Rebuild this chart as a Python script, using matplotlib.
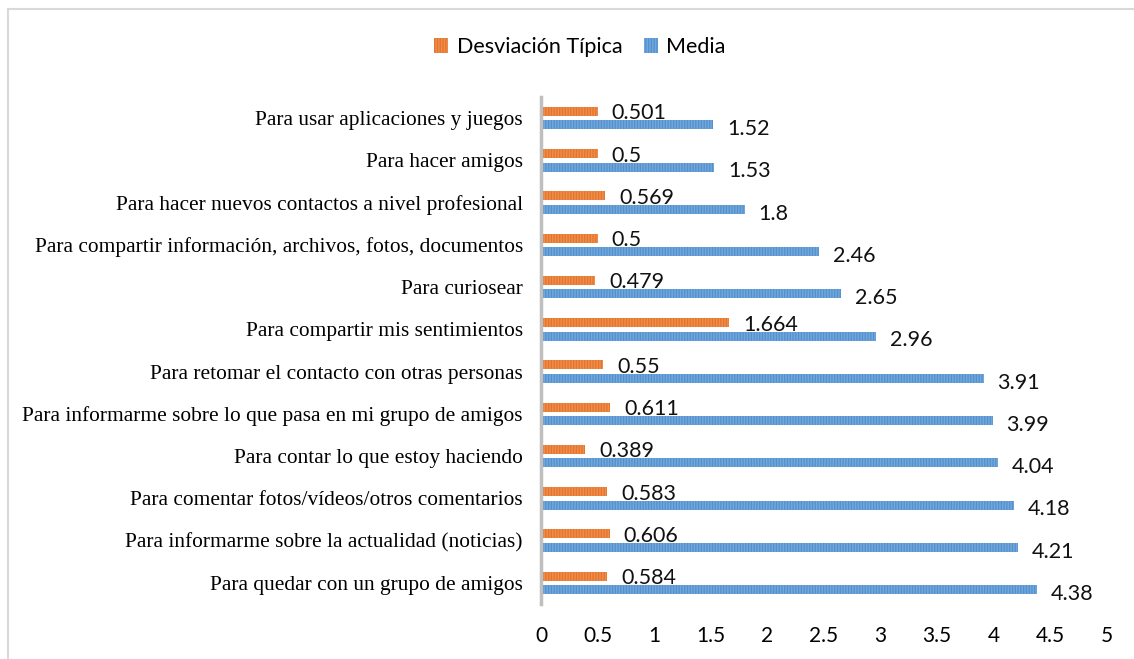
import numpy as np
import matplotlib
matplotlib.use("Agg")
import matplotlib.pyplot as plt
from matplotlib.patches import Rectangle, Patch

categorias = [
    "Para usar aplicaciones y juegos",
    "Para hacer amigos",
    "Para hacer nuevos contactos a nivel profesional",
    "Para compartir información, archivos, fotos, documentos",
    "Para curiosear",
    "Para compartir mis sentimientos",
    "Para retomar el contacto con otras personas",
    "Para informarme sobre lo que pasa en mi grupo de amigos",
    "Para contar lo que estoy haciendo",
    "Para comentar fotos/vídeos/otros comentarios",
    "Para informarme sobre la actualidad (noticias)",
    "Para quedar con un grupo de amigos",
]
desviacion = [0.501, 0.5, 0.569, 0.5, 0.479, 1.664, 0.55, 0.611, 0.389, 0.583, 0.606, 0.584]
media = [1.52, 1.53, 1.8, 2.46, 2.65, 2.96, 3.91, 3.99, 4.04, 4.18, 4.21, 4.38]
etiq_desv = ["0.501", "0.5", "0.569", "0.5", "0.479", "1.664", "0.55", "0.611", "0.389", "0.583", "0.606", "0.584"]
etiq_media = ["1.52", "1.53", "1.8", "2.46", "2.65", "2.96", "3.91", "3.99", "4.04", "4.18", "4.21", "4.38"]
xticks = [0, 0.5, 1, 1.5, 2, 2.5, 3, 3.5, 4, 4.5, 5]

naranja, naranja_h = "#F28C48", "#E0752E"
azul, azul_h = "#70A8DC", "#5590CE"
plt.rcParams["hatch.linewidth"] = 0.9
sans = ["Lato", "DejaVu Sans"]

fig = plt.figure(figsize=(11.34, 6.59), dpi=100)
fig.patches.append(Rectangle((8 / 1134, -0.1), 1.2, 1 - 9 / 659 + 0.1, transform=fig.transFigure,
                             fill=False, edgecolor="#D9D9D9", linewidth=1.5))
ax = fig.add_axes([541 / 1134, 1 - 604 / 659, (1107 - 541) / 1134, (604 - 97) / 659])

y = np.arange(len(categorias))
h = 0.215
off = 0.16
ax.barh(y - off, desviacion, height=h, color=naranja, edgecolor=naranja_h, linewidth=0, hatch="||||||")
ax.barh(y + off, media, height=h, color=azul, edgecolor=azul_h, linewidth=0, hatch="||||||")

for yy, v, t in zip(y - off, desviacion, etiq_desv):
    ax.annotate(t, (v, yy), xytext=(10, -1.5), textcoords="offset points", va="center", ha="left",
                fontsize=15.5, family=sans, color="#111111")
for yy, v, t in zip(y + off, media, etiq_media):
    ax.annotate(t, (v, yy), xytext=(10, -3), textcoords="offset points", va="center", ha="left",
                fontsize=15.5, family=sans, color="#111111")

ax.set_xlim(0, 5)
ax.set_ylim(len(categorias) - 0.5, -0.5)
ax.set_yticks(y)
ax.set_yticklabels(categorias, family="Liberation Serif", fontsize=15.4)
ax.set_xticks(xticks)
ax.set_xticklabels([f"{v:g}" for v in xticks], family=sans, fontsize=15)
ax.tick_params(axis="y", length=0, pad=13)
ax.tick_params(axis="x", length=0, pad=16)
for s in ["top", "right", "bottom"]:
    ax.spines[s].set_visible(False)
ax.spines["left"].set_color("#BFBFBF")
ax.spines["left"].set_linewidth(2.5)

handles = [Patch(facecolor=naranja, edgecolor=naranja_h, hatch="||||||", linewidth=0, label="Desviación Típica"),
           Patch(facecolor=azul, edgecolor=azul_h, hatch="||||||", linewidth=0, label="Media")]
fig.legend(handles=handles, loc="center", bbox_to_anchor=(580 / 1134, 1 - 47 / 659), ncol=2, frameon=False,
           prop={"family": sans, "size": 15.5}, handlelength=0.65, handleheight=0.65, handletextpad=0.4,
           columnspacing=1.0)

fig.savefig("out.png", dpi=100)
